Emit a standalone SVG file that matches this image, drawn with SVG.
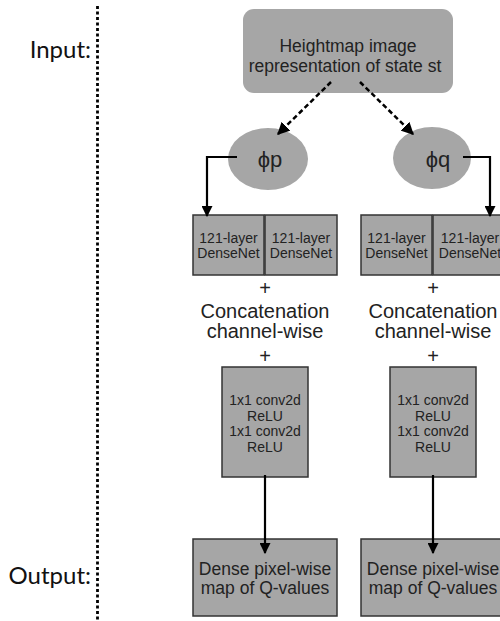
<svg xmlns="http://www.w3.org/2000/svg" width="500" height="621" viewBox="0 0 500 621">
<defs>
<marker id="ah" viewBox="0 0 10 10" refX="9" refY="5" markerWidth="5" markerHeight="5" orient="auto" markerUnits="strokeWidth">
<path d="M0,0 L10,5 L0,10 z" fill="#000"/>
</marker>
<style>
.box{fill:#a6a6a6;stroke:#333;stroke-width:1.5}
.t{font-family:"Liberation Sans",Arial,sans-serif;fill:#222;text-anchor:middle}
.lab{font-family:Lato,"Liberation Sans",sans-serif;font-size:24px;fill:#111;text-anchor:end}
.con{fill:none;stroke:#000;stroke-width:2.2}
.dash{fill:none;stroke:#000;stroke-width:2.5;stroke-dasharray:5 3}
</style>
</defs>
<rect width="500" height="621" fill="#fff"/>
<line x1="97.5" y1="6" x2="97.5" y2="621" stroke="#000" stroke-width="2.8" stroke-dasharray="3 2.5"/>
<text class="lab" x="91" y="58">Input:</text>
<text class="lab" x="91" y="584">Output:</text>

<g id="heightmap">
<rect x="243" y="9" width="210" height="84" rx="11" fill="#a6a6a6"/>
<text class="t" x="348" y="52" font-size="17.5">Heightmap image</text>
<text class="t" x="345" y="72" font-size="17.5">representation of state st</text>
</g>
<g id="phip">
<ellipse cx="268" cy="159" rx="40" ry="31" fill="#a6a6a6"/>
<text class="t" x="270" y="167" font-size="22">ϕp</text>
</g>
<g id="phiq">
<ellipse cx="432" cy="158" rx="39" ry="31" fill="#a6a6a6"/>
<text class="t" x="438" y="167" font-size="22">ϕq</text>
</g>

<g id="densenet1">
<rect class="box" x="193" y="215" width="71" height="60"/>
<text class="t" x="228.5" y="243" font-size="14">121-layer</text>
<text class="t" x="228.5" y="258" font-size="14">DenseNet</text>
</g>
<g id="densenet2">
<rect class="box" x="265" y="215" width="72" height="60"/>
<text class="t" x="301" y="243" font-size="14">121-layer</text>
<text class="t" x="301" y="258" font-size="14">DenseNet</text>
</g>
<g id="densenet3">
<rect class="box" x="361" y="215" width="71" height="60"/>
<text class="t" x="396.5" y="243" font-size="14">121-layer</text>
<text class="t" x="396.5" y="258" font-size="14">DenseNet</text>
</g>
<g id="densenet4">
<rect class="box" x="433" y="215" width="72" height="60"/>
<text class="t" x="470" y="243" font-size="14">121-layer</text>
<text class="t" x="470" y="258" font-size="14">DenseNet</text>
</g>

<g id="concat1">
<text class="t" x="265" y="295" font-size="20">+</text>
<text class="t" x="265" y="318" font-size="20">Concatenation</text>
<text class="t" x="265" y="338" font-size="20">channel-wise</text>
<text class="t" x="265" y="363" font-size="20">+</text>
</g>
<g id="concat2">
<text class="t" x="433" y="295" font-size="20">+</text>
<text class="t" x="433" y="318" font-size="20">Concatenation</text>
<text class="t" x="433" y="338" font-size="20">channel-wise</text>
<text class="t" x="433" y="363" font-size="20">+</text>
</g>

<g id="conv1">
<rect class="box" x="222" y="367" width="86" height="110"/>
<text class="t" x="265" y="405" font-size="14">1x1 conv2d</text>
<text class="t" x="265" y="421" font-size="14">ReLU</text>
<text class="t" x="265" y="436" font-size="14">1x1 conv2d</text>
<text class="t" x="265" y="452" font-size="14">ReLU</text>
</g>
<g id="conv2">
<rect class="box" x="390" y="367" width="86" height="110"/>
<text class="t" x="433" y="405" font-size="14">1x1 conv2d</text>
<text class="t" x="433" y="421" font-size="14">ReLU</text>
<text class="t" x="433" y="436" font-size="14">1x1 conv2d</text>
<text class="t" x="433" y="452" font-size="14">ReLU</text>
</g>

<g id="output1">
<rect class="box" x="193" y="539" width="144" height="77"/>
<text class="t" x="265" y="575" font-size="17.5">Dense pixel-wise</text>
<text class="t" x="265" y="594" font-size="17.5">map of Q-values</text>
</g>
<g id="output2">
<rect class="box" x="361" y="539" width="144" height="77"/>
<text class="t" x="433" y="575" font-size="17.5">Dense pixel-wise</text>
<text class="t" x="433" y="594" font-size="17.5">map of Q-values</text>
</g>

<g id="connectors">
<path class="dash" d="M331,82 L278,134" marker-end="url(#ah)"/>
<path class="dash" d="M360,82 L413,134" marker-end="url(#ah)"/>
<path class="con" d="M237,157 H207 V216" marker-end="url(#ah)"/>
<path class="con" d="M463,157 H490 V216" marker-end="url(#ah)"/>
<path class="con" d="M265,475 V553" marker-end="url(#ah)"/>
<path class="con" d="M433,475 V553" marker-end="url(#ah)"/>
</g>
</svg>
